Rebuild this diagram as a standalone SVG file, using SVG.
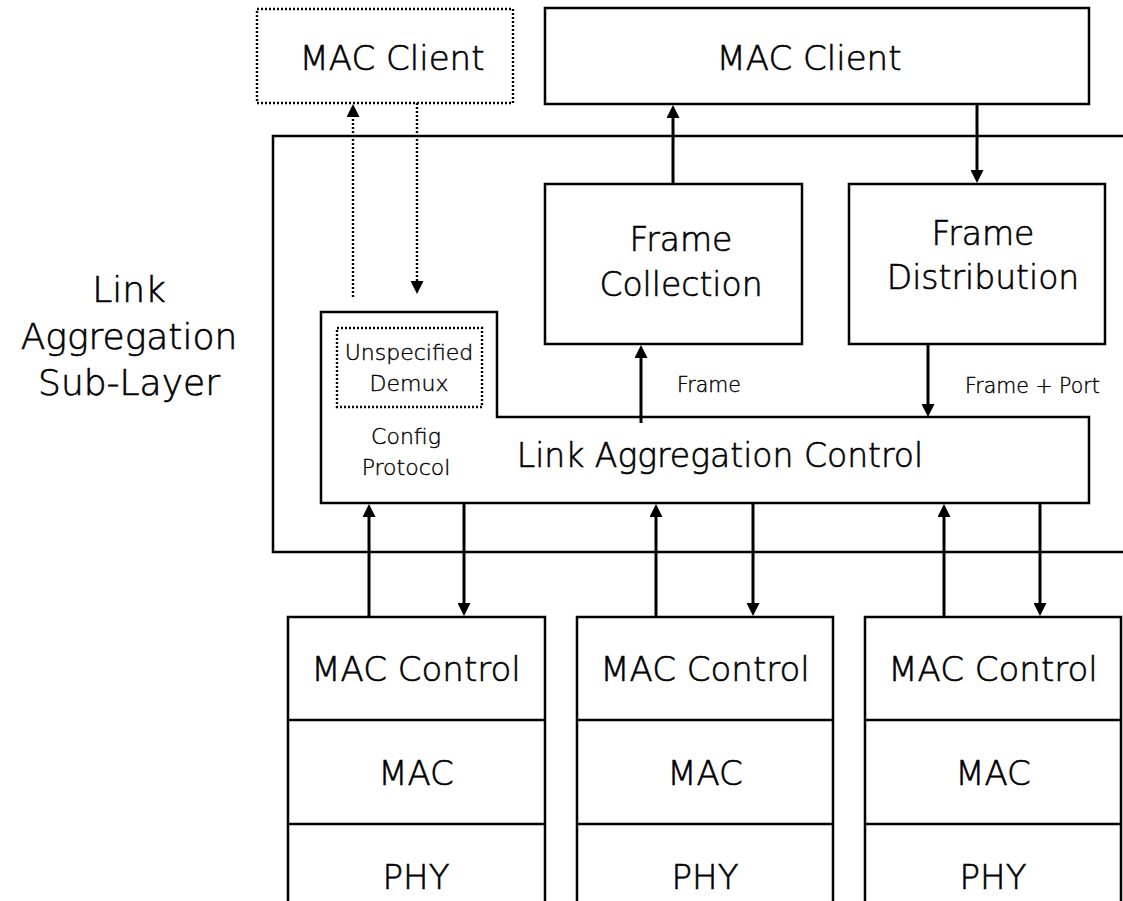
<svg xmlns="http://www.w3.org/2000/svg" width="1123" height="901" viewBox="0 0 1123 901">
  <style>
    .box { fill: #fff; stroke: #000; stroke-width: 2.5; }
    .dot { fill: none; stroke: #000; stroke-width: 2.4; stroke-dasharray: 2 2; }
    .edge { fill: none; stroke: #000; stroke-width: 3; }
    .edge-dot { fill: none; stroke: #000; stroke-width: 2.4; stroke-dasharray: 2 2; }
    text { font-family: "DejaVu Sans", "Liberation Sans", sans-serif; font-weight: 200; fill: #000; stroke: #000; stroke-width: 0.6; text-anchor: middle; }
    .big { font-size: 34px; }
    .mid { font-size: 33px; }
    .side { font-size: 36px; }
    .small { font-size: 22px; stroke-width: 0.4; }
    .lbl { font-size: 20.5px; stroke-width: 0.4; text-anchor: start; }
  </style>
  <defs>
    <marker id="ah" viewBox="0 0 13 13" refX="7" refY="6.5" markerWidth="13" markerHeight="13" markerUnits="userSpaceOnUse" orient="auto">
      <path d="M0,0 L13,6.5 L0,13 z" fill="#000"/>
    </marker>
  </defs>

  <rect width="1123" height="901" fill="#fff"/>

  <!-- sub-layer frame, open on the right -->
  <g id="sublayer">
    <path d="M1125,136 H273 V552 H1125" fill="none" stroke="#000" stroke-width="2.5"/>
    <text class="side" x="129" y="302">Link</text>
    <text class="side" x="129" y="349">Aggregation</text>
    <text class="side" x="129" y="395">Sub-Layer</text>
  </g>

  <g id="mac-client-opt">
    <rect class="dot" x="257" y="9" width="256" height="94"/>
    <text class="big" x="392" y="70">MAC Client</text>
  </g>

  <g id="mac-client">
    <rect class="box" x="545" y="8" width="544" height="96"/>
    <text class="big" x="809" y="70">MAC Client</text>
  </g>

  <g id="frame-collection">
    <rect class="box" x="545" y="184" width="257" height="160"/>
    <text class="mid" x="681" y="251">Frame</text>
    <text class="mid" x="681" y="296">Collection</text>
  </g>

  <g id="frame-distribution">
    <rect class="box" x="849" y="184" width="256" height="160"/>
    <text class="mid" x="983" y="245">Frame</text>
    <text class="mid" x="983" y="289">Distribution</text>
  </g>

  <g id="lac">
    <path class="box" d="M321,312 H497 V417 H1089 V503 H321 Z"/>
    <rect class="dot" x="337" y="328" width="145" height="79"/>
    <text class="small" x="409" y="360">Unspecified</text>
    <text class="small" x="409" y="391">Demux</text>
    <text class="small" x="406" y="444">Config</text>
    <text class="small" x="406" y="475">Protocol</text>
    <text class="mid" x="720" y="467">Link Aggregation Control</text>
  </g>

  <g id="port1">
    <rect class="box" x="288" y="617" width="257" height="300"/>
    <line x1="288" y1="720" x2="545" y2="720" stroke="#000" stroke-width="2.5"/>
    <line x1="288" y1="824" x2="545" y2="824" stroke="#000" stroke-width="2.5"/>
    <text class="big" x="416" y="681">MAC Control</text>
    <text class="big" x="416" y="785">MAC</text>
    <text class="big" x="416" y="889">PHY</text>
  </g>

  <g id="port2">
    <rect class="box" x="577" y="617" width="256" height="300"/>
    <line x1="577" y1="720" x2="833" y2="720" stroke="#000" stroke-width="2.5"/>
    <line x1="577" y1="824" x2="833" y2="824" stroke="#000" stroke-width="2.5"/>
    <text class="big" x="705" y="681">MAC Control</text>
    <text class="big" x="705" y="785">MAC</text>
    <text class="big" x="705" y="889">PHY</text>
  </g>

  <g id="port3">
    <rect class="box" x="865" y="617" width="256" height="300"/>
    <line x1="865" y1="720" x2="1121" y2="720" stroke="#000" stroke-width="2.5"/>
    <line x1="865" y1="824" x2="1121" y2="824" stroke="#000" stroke-width="2.5"/>
    <text class="big" x="993" y="681">MAC Control</text>
    <text class="big" x="993" y="785">MAC</text>
    <text class="big" x="993" y="889">PHY</text>
  </g>

  <g id="connectors">
    <!-- optional client path -->
    <path class="edge-dot" d="M353,297 V110" marker-end="url(#ah)"/>
    <path class="edge-dot" d="M417,103 V288" marker-end="url(#ah)"/>
    <!-- client <-> collection / distribution -->
    <path class="edge" d="M673,184 V111" marker-end="url(#ah)"/>
    <path class="edge" d="M977,104 V177" marker-end="url(#ah)"/>
    <!-- collection / distribution <-> control -->
    <path class="edge" d="M641,423 V351" marker-end="url(#ah)"/>
    <path class="edge" d="M928,344 V411" marker-end="url(#ah)"/>
    <text class="lbl" x="677" y="392">Frame</text>
    <text class="lbl" x="965" y="393">Frame + Port</text>
    <!-- control <-> ports -->
    <path class="edge" d="M369,617 V510" marker-end="url(#ah)"/>
    <path class="edge" d="M464,503 V610" marker-end="url(#ah)"/>
    <path class="edge" d="M656,617 V510" marker-end="url(#ah)"/>
    <path class="edge" d="M753,503 V610" marker-end="url(#ah)"/>
    <path class="edge" d="M944,617 V510" marker-end="url(#ah)"/>
    <path class="edge" d="M1040,503 V610" marker-end="url(#ah)"/>
  </g>
</svg>
